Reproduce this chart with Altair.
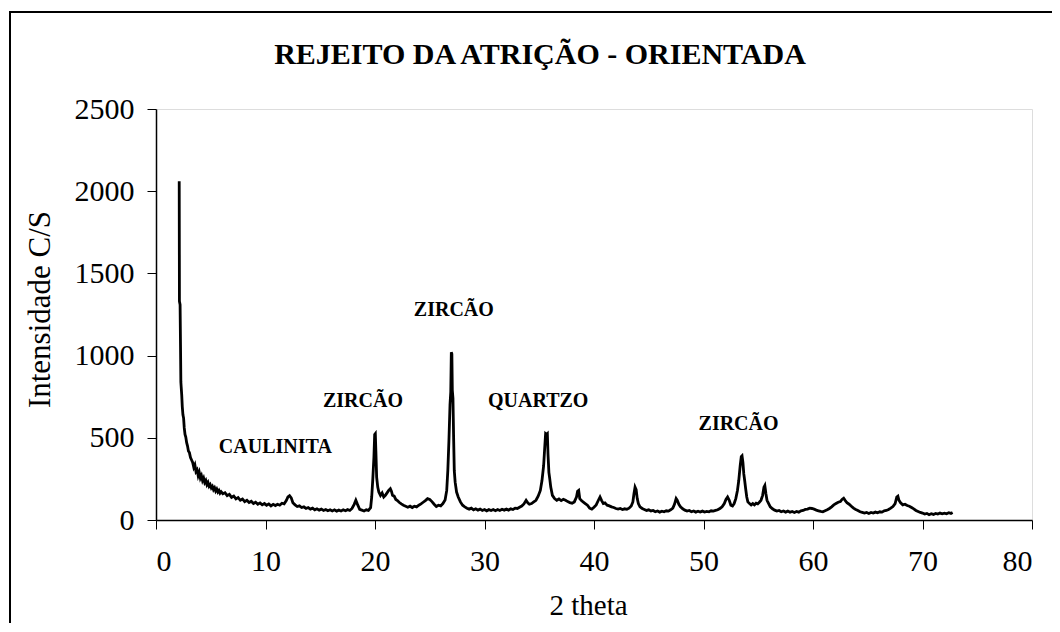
import altair as alt
import pandas as pd

# ---- diffractogram: (2 theta, counts per second) ----
seg_low = [
    (2.12, 2060), (2.14, 1330), (2.20, 1310), (2.24, 1050), (2.27, 840), (2.30, 810),
    (2.35, 760), (2.40, 690), (2.46, 640), (2.52, 620), (2.58, 560), (2.65, 520),
    (2.72, 505), (2.80, 470), (2.88, 450), (2.96, 420), (3.05, 410), (3.15, 380),
    (3.25, 365), (3.35, 350), (3.45, 320), (3.55, 335), (3.65, 295), (3.75, 305),
    (3.85, 270), (3.95, 290), (4.05, 255), (4.15, 270), (4.25, 240), (4.35, 255),
    (4.45, 228), (4.55, 240), (4.65, 215), (4.75, 228), (4.85, 205), (4.95, 215),
    (5.05, 195), (5.15, 205), (5.25, 185), (5.35, 196), (5.45, 176), (5.55, 188),
    (5.65, 170), (5.75, 180), (5.85, 163), (5.95, 172),
]
seg_caulinita = [
    (6.1, 160), (6.3, 166), (6.5, 148), (6.7, 156), (6.9, 138), (7.1, 146),
    (7.3, 128), (7.5, 136), (7.7, 120), (7.9, 128), (8.1, 112), (8.3, 120),
    (8.5, 106), (8.7, 114), (8.9, 100), (9.1, 108), (9.3, 96), (9.5, 104),
    (9.7, 92), (9.9, 100), (10.1, 90), (10.3, 98), (10.5, 86), (10.7, 95),
    (10.9, 88), (11.1, 96), (11.3, 90), (11.5, 102), (11.7, 98), (11.9, 118),
    (12.05, 140), (12.2, 148), (12.35, 135), (12.5, 105), (12.7, 92), (12.9, 82),
    (13.1, 86), (13.3, 76), (13.5, 80), (13.7, 70), (13.9, 76), (14.1, 66),
    (14.3, 72), (14.5, 62), (14.7, 68), (14.9, 60), (15.1, 66), (15.3, 58),
    (15.5, 64), (15.7, 56), (15.9, 62), (16.1, 55), (16.3, 62), (16.5, 54),
    (16.7, 60), (16.9, 55), (17.1, 62), (17.3, 56), (17.5, 63), (17.7, 58),
    (17.9, 70), (18.1, 95), (18.25, 120), (18.4, 95), (18.6, 65), (18.8, 60),
    (19.0, 55), (19.2, 62), (19.4, 58), (19.6, 75),
]
seg_zircao = [
    (19.7, 140), (19.8, 250), (19.9, 380), (19.97, 520), (20.03, 525), (20.08, 420),
    (20.15, 260), (20.25, 200), (20.35, 170), (20.5, 150), (20.65, 165), (20.8, 140),
    (20.95, 150), (21.1, 165), (21.25, 180), (21.4, 190), (21.5, 175), (21.6, 150),
    (21.75, 145), (21.9, 125), (22.05, 118), (22.2, 108), (22.4, 98), (22.6, 90),
    (22.8, 84), (23.0, 78), (23.2, 84), (23.4, 76), (23.6, 84), (23.8, 80),
    (24.0, 90), (24.2, 98), (24.4, 108), (24.6, 118), (24.8, 130), (25.0, 125),
    (25.2, 112), (25.4, 96), (25.6, 82), (25.8, 90), (26.0, 86), (26.2, 100),
    (26.4, 122), (26.55, 180), (26.65, 300), (26.75, 480), (26.85, 700), (26.92, 780),
    (26.97, 1020), (27.02, 1010), (27.06, 790), (27.12, 740), (27.18, 500), (27.24, 300),
    (27.32, 230), (27.45, 170), (27.6, 140), (27.8, 110), (28.0, 90), (28.2, 80),
    (28.4, 72),
]
seg_quartzo = [
    (28.6, 66), (28.8, 72), (29.0, 62), (29.2, 68), (29.4, 60), (29.6, 66),
    (29.8, 58), (30.0, 64), (30.2, 56), (30.4, 63), (30.6, 58), (30.8, 64),
    (31.0, 57), (31.2, 64), (31.4, 58), (31.6, 65), (31.8, 60), (32.0, 66),
    (32.2, 60), (32.4, 68), (32.6, 64), (32.8, 72), (33.0, 70), (33.2, 78),
    (33.4, 85), (33.6, 98), (33.8, 120), (33.95, 105), (34.1, 96), (34.3, 100),
    (34.5, 110), (34.7, 120), (34.9, 145), (35.1, 180), (35.25, 240), (35.4, 330),
    (35.5, 440), (35.58, 525), (35.66, 520), (35.74, 525), (35.8, 400), (35.88, 290),
    (35.96, 250), (36.05, 200), (36.2, 150), (36.4, 130), (36.6, 120), (36.8, 128),
    (37.0, 118), (37.2, 126), (37.4, 120), (37.6, 112), (37.8, 106), (38.0, 102),
    (38.2, 110), (38.4, 140), (38.5, 175), (38.6, 180), (38.7, 130), (38.85, 118),
    (39.0, 110), (39.2, 100), (39.4, 90), (39.6, 72), (39.8, 66), (40.0, 78),
    (40.2, 92), (40.4, 120), (40.55, 140), (40.7, 118), (40.85, 100), (41.0, 104),
    (41.2, 90), (41.4, 86), (41.6, 80), (41.8, 76), (42.0, 70), (42.2, 66),
    (42.4, 70), (42.6, 64), (42.8, 68), (43.0, 65), (43.2, 72), (43.4, 85),
    (43.55, 110), (43.65, 160), (43.75, 200), (43.85, 185), (43.95, 130), (44.05, 100),
    (44.2, 80), (44.4, 70), (44.6, 64), (44.8, 58),
]
seg_mid = [
    (45.0, 62), (45.2, 55), (45.4, 58), (45.6, 50), (45.8, 55), (46.0, 48),
    (46.2, 54), (46.4, 50), (46.6, 56), (46.8, 54), (47.0, 62), (47.2, 72),
    (47.35, 95), (47.5, 130), (47.6, 120), (47.75, 95), (47.9, 80), (48.1, 68),
    (48.3, 60), (48.5, 54), (48.7, 58), (48.9, 50), (49.1, 55), (49.3, 48),
    (49.5, 53), (49.7, 48), (49.9, 54), (50.1, 48), (50.3, 52), (50.5, 50),
    (50.7, 56), (50.9, 54), (51.1, 58), (51.3, 62), (51.5, 70), (51.7, 80),
    (51.9, 100), (52.05, 125), (52.2, 140), (52.35, 120), (52.5, 90), (52.65, 85),
    (52.8, 100), (52.95, 130), (53.1, 180), (53.22, 240), (53.35, 330), (53.45, 385),
    (53.52, 390), (53.6, 350), (53.68, 280), (53.76, 240), (53.85, 190), (53.95, 140),
    (54.05, 110), (54.2, 100), (54.35, 92), (54.5, 100), (54.65, 92), (54.8, 102),
    (54.95, 98), (55.1, 108), (55.25, 120), (55.4, 150), (55.52, 200), (55.6, 210),
    (55.7, 160), (55.8, 120), (55.95, 100), (56.1, 80), (56.3, 68), (56.5, 60),
    (56.7, 54), (56.9, 58), (57.1, 50), (57.3, 55), (57.5, 48), (57.7, 54),
    (57.9, 47),
]
seg_high = [
    (58.1, 52), (58.3, 46), (58.5, 52), (58.7, 48), (58.9, 56), (59.1, 58),
    (59.3, 64), (59.5, 66), (59.7, 72), (59.9, 70), (60.1, 66), (60.3, 60),
    (60.5, 56), (60.7, 52), (60.9, 50), (61.1, 56), (61.3, 62), (61.5, 70),
    (61.7, 80), (61.9, 92), (62.1, 100), (62.3, 108), (62.5, 112), (62.65, 125),
    (62.8, 132), (62.95, 118), (63.1, 105), (63.3, 96), (63.5, 84), (63.7, 72),
    (63.9, 64), (64.1, 58), (64.3, 50), (64.5, 46), (64.7, 42), (64.9, 46),
    (65.1, 40), (65.3, 46), (65.5, 42), (65.7, 48), (65.9, 44), (66.1, 50),
    (66.3, 48), (66.5, 56), (66.7, 58), (66.9, 64), (67.1, 72), (67.3, 82),
    (67.5, 100), (67.65, 140), (67.75, 145), (67.85, 120), (68.0, 105), (68.2, 92),
    (68.4, 96), (68.6, 88), (68.8, 84), (69.0, 76), (69.2, 68), (69.4, 58),
    (69.6, 52), (69.8, 46), (70.0, 42), (70.2, 36), (70.4, 40), (70.6, 32),
    (70.8, 38), (71.0, 34), (71.2, 40), (71.4, 36), (71.6, 42), (71.8, 38),
    (72.0, 42), (72.2, 38), (72.4, 44), (72.6, 40), (72.75, 45),
]

# ---- peak labels ----
label_text = ["CAULINITA", "ZIRCÃO", "ZIRCÃO", "QUARTZO", "ZIRCÃO"]
label_theta = [10.9, 18.9, 27.2, 34.9, 53.2]
label_counts = [446, 721, 1277, 721, 581]

chart_title = ["REJEITO DA ATRIÇÃO - ORIENTADA"]
x_ticks = [0, 10, 20, 30, 40, 50, 60, 70, 80]
y_ticks = [0, 500, 1000, 1500, 2000, 2500]

points = seg_low + seg_caulinita + seg_zircao + seg_quartzo + seg_mid + seg_high
df = pd.DataFrame(points, columns=["theta", "counts"])
df["order"] = range(len(df))
labels = pd.DataFrame({"text": label_text, "theta": label_theta, "counts": label_counts})

FONT = "Liberation Serif"

x_enc = alt.X(
    "theta:Q",
    scale=alt.Scale(domain=[0, 80], nice=False, zero=False),
    axis=alt.Axis(
        values=x_ticks, format="d", title="2 theta", grid=False, domainColor="black",
        domainWidth=1.5, tickColor="black", tickSize=9, tickWidth=1, labelFont=FONT,
        labelFontSize=30, labelColor="black", labelPadding=17, titleFont=FONT,
        titleFontSize=29, titleFontWeight="normal", titleColor="black", titleX=432,
        titleY=85, titleBaseline="middle",
    ),
)
y_enc = alt.Y(
    "counts:Q",
    scale=alt.Scale(domain=[0, 2500], nice=False),
    axis=alt.Axis(
        values=y_ticks, format="d", title="Intensidade C/S", grid=False,
        domainColor="black", domainWidth=1.5, tickColor="black", tickSize=9, tickWidth=1,
        labelFont=FONT, labelFontSize=30, labelColor="black", labelPadding=13,
        titleFont=FONT, titleFontSize=31, titleFontWeight="normal", titleColor="black",
        titleX=-116, titleY=200, titleBaseline="middle", titleAlign="center",
        titleAngle=270,
    ),
)

line = alt.Chart(df).mark_line(color="black", strokeWidth=2.8, clip=True).encode(
    x=x_enc, y=y_enc, order="order:Q"
)

text = alt.Chart(labels).mark_text(
    font=FONT, fontSize=20, fontWeight="bold", color="black"
).encode(x="theta:Q", y="counts:Q", text="text:N")

title = alt.Chart(pd.DataFrame({"t": chart_title})).mark_text(
    font=FONT, fontSize=30, fontWeight="bold", color="black", baseline="middle",
    align="center",
).encode(x=alt.value(384), y=alt.value(-54), text="t:N")

frame = alt.Chart(pd.DataFrame({"a": [0]})).mark_rect(
    fillOpacity=0, stroke="black", strokeWidth=2
).encode(
    x=alt.value(-146), x2=alt.value(960), y=alt.value(-97), y2=alt.value(600)
)

chart = (
    alt.layer(frame, title, line, text)
    .properties(
        width=876,
        height=411,
        autosize=alt.AutoSizeParams(type="none"),
        padding={"left": 148, "top": 101, "right": 20, "bottom": 103},
    )
    .configure_view(stroke="#808080", strokeWidth=2)
    .configure(background="white")
)

chart.save("out.html", embed_options={"renderer": "svg", "actions": False})
